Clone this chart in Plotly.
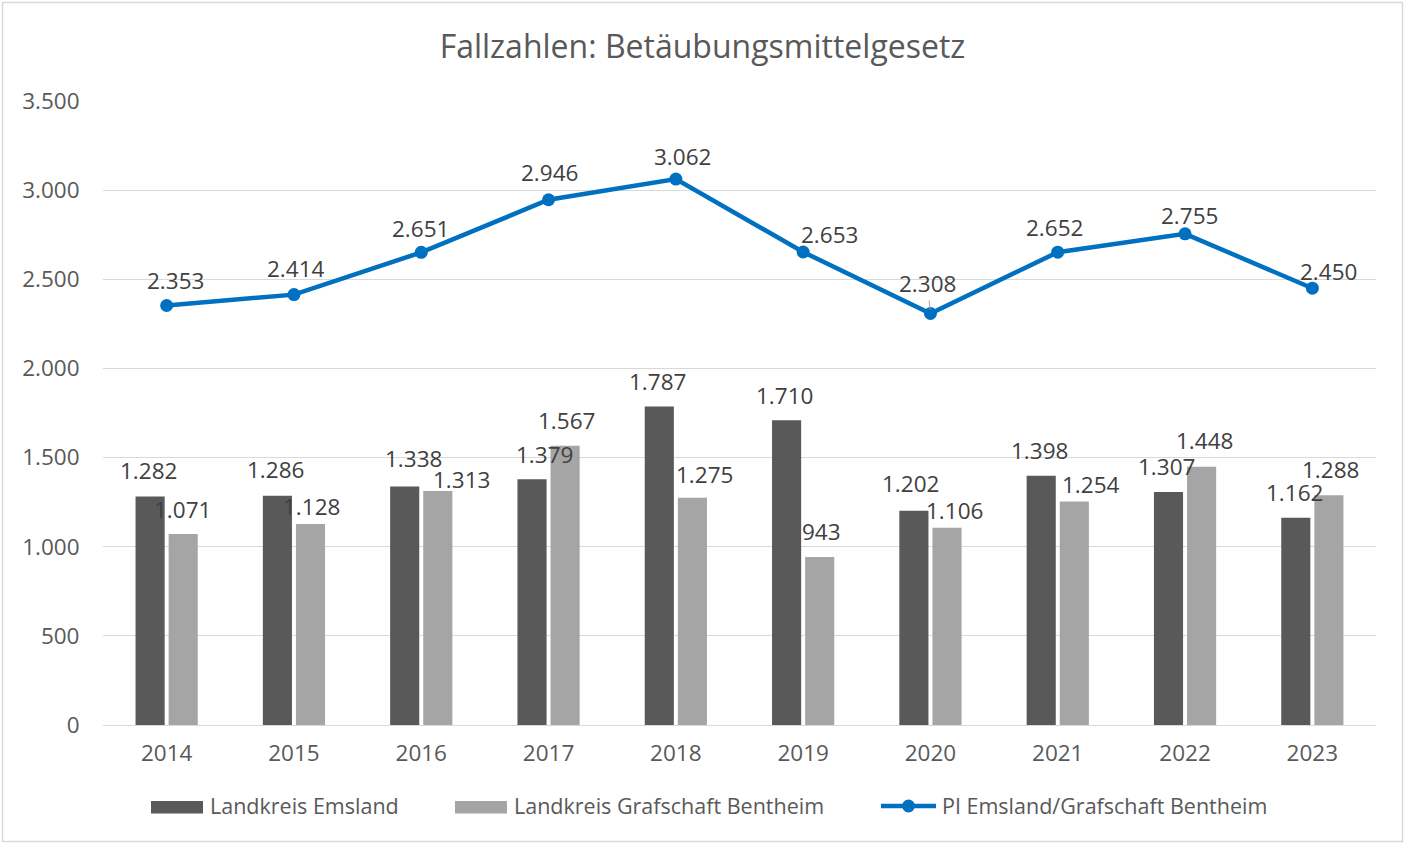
import plotly.graph_objects as go

years = ["2014", "2015", "2016", "2017", "2018", "2019", "2020", "2021", "2022", "2023"]
emsland = [1282, 1286, 1338, 1379, 1787, 1710, 1202, 1398, 1307, 1162]
bentheim = [1071, 1128, 1313, 1567, 1275, 943, 1106, 1254, 1448, 1288]
pi_total = [2353, 2414, 2651, 2946, 3062, 2653, 2308, 2652, 2755, 2450]

series_names = ["Landkreis Emsland", "Landkreis Grafschaft Bentheim", "PI Emsland/Grafschaft Bentheim"]

# label nudges (px) mimicking the manually placed labels of the original
ems_dx = [0, 0, 11, 14, 0, 0, -2, 0, 0, 0]
ems_dy = [26, 26, 28, 25, 25, 25, 27, 25, 25, 25]
ben_dx = [-2, -1, 22, 0, 10, 0, 6, 15, 1, 0]
ben_dy = [25, 17, 11, 25, 23, 25, 17, 17, 26, 26]
pi_dx = [9, 2, -1, 1, 7, 26, -3, -3, 4, 16]
pi_dy = [25, 26, 24, 27, 23, 18, 30, 25, 18, 17]

def de(v):
    return f"{v:,}".replace(",", ".")

W, H = 1405, 844
ML, MR, MT, MB = 103, 29, 101, 119
PW = W - ML - MR
PH = H - MT - MB
FONT = "Open Sans"
DARK, LIGHT, BLUE = "#595959", "#A5A5A5", "#0070C0"
TXT = "#595959"
LBL = "#404040"

def px(x):
    return (x - ML) / PW

def py(y):
    return (H - MB - y) / PH

fig = go.Figure()
fig.add_trace(go.Bar(x=years, y=emsland, name=series_names[0], marker_color=DARK,
                     marker_line_width=0, showlegend=False))
fig.add_trace(go.Bar(x=years, y=bentheim, name=series_names[1], marker_color=LIGHT,
                     marker_line_width=0, showlegend=False))
fig.add_trace(go.Scatter(x=years, y=pi_total, name=series_names[2], showlegend=False,
                         mode="lines+markers", line=dict(color=BLUE, width=4.5),
                         marker=dict(color=BLUE, size=13)))

LFS = 22.5
ann = []
bar_off = 18.3
for i, y in enumerate(years):
    ann.append(dict(x=i, y=emsland[i], xref="x", yref="y", text=de(emsland[i]), showarrow=False,
                    xshift=-bar_off + ems_dx[i], yshift=ems_dy[i], font=dict(family=FONT, size=LFS, color=LBL)))
    ann.append(dict(x=i, y=bentheim[i], xref="x", yref="y", text=de(bentheim[i]), showarrow=False,
                    xshift=bar_off + ben_dx[i], yshift=ben_dy[i], font=dict(family=FONT, size=LFS, color=LBL)))
    if y == "2020":
        ann.append(dict(x=i, y=pi_total[i], xref="x", yref="y", text=de(pi_total[i]), showarrow=True,
                        arrowhead=0, arrowwidth=1, arrowcolor="#A6A6A6", ax=pi_dx[i], ay=-pi_dy[i],
                        standoff=4, font=dict(family=FONT, size=LFS, color=LBL)))
    else:
        ann.append(dict(x=i, y=pi_total[i], xref="x", yref="y", text=de(pi_total[i]), showarrow=False,
                        xshift=pi_dx[i], yshift=pi_dy[i], font=dict(family=FONT, size=LFS, color=LBL)))

shapes = []
# outer border
shapes.append(dict(type="rect", xref="paper", yref="paper",
                   x0=px(2.5), x1=px(W - 2.5), y0=py(H - 2.5), y1=py(2.5),
                   line=dict(color="#D9D9D9", width=1.5), layer="below"))

# custom legend (wide swatches as in the original)
LY = 806
legend_items = [
    (series_names[0], "bar", DARK, 151, 203, 208),
    (series_names[1], "bar", LIGHT, 455, 507, 512),
    (series_names[2], "line", BLUE, 881, 936, 940),
]
for name, kind, col, x0, x1, tx in legend_items:
    if kind == "bar":
        shapes.append(dict(type="rect", xref="paper", yref="paper", x0=px(x0), x1=px(x1),
                           y0=py(LY + 7.5), y1=py(LY - 5), fillcolor=col, line=dict(width=0)))
    else:
        shapes.append(dict(type="line", xref="paper", yref="paper", x0=px(x0), x1=px(x1),
                           y0=py(LY), y1=py(LY), line=dict(color=col, width=4.5)))
        shapes.append(dict(type="circle", xref="paper", yref="paper",
                           x0=px((x0 + x1) / 2 - 6.5), x1=px((x0 + x1) / 2 + 6.5),
                           y0=py(LY + 6.5), y1=py(LY - 6.5), fillcolor=col, line=dict(width=0)))
    ann.append(dict(x=px(tx), y=py(LY - 1), xref="paper", yref="paper", text=name, showarrow=False,
                    xanchor="left", yanchor="middle", font=dict(family=FONT, size=21.5, color=TXT)))

fig.update_layout(
    width=W, height=H, autosize=False,
    margin=dict(l=ML, r=MR, t=MT, b=MB),
    paper_bgcolor="white", plot_bgcolor="white",
    font=dict(family=FONT, color=TXT, size=18),
    title=dict(text="Fallzahlen: Betäubungsmittelgesetz", x=0.5, xanchor="center",
               y=1 - 47 / H, yanchor="middle", yref="container",
               font=dict(family=FONT, size=32, color=TXT)),
    barmode="group", bargap=0.48, bargroupgap=0.12,
    showlegend=False,
    annotations=ann,
    shapes=shapes,
    separators=",.",
)
fig.update_xaxes(range=[-0.5, len(years) - 0.5], automargin=False, showgrid=False, showline=True,
                 linecolor="#D9D9D9", linewidth=1,
                 ticks="outside", ticklen=8, tickcolor="rgba(0,0,0,0)",
                 tickfont=dict(family=FONT, size=22.5, color=TXT))
fig.update_yaxes(range=[0, 3500], dtick=500, automargin=False, showgrid=True, gridcolor="#D9D9D9", gridwidth=1,
                 zeroline=False, showline=False, tickformat=",d",
                 ticks="outside", ticklen=18, tickcolor="rgba(0,0,0,0)",
                 tickfont=dict(family=FONT, size=22.5, color=TXT))

fig.write_html("out.html", config={"displayModeBar": False},
               post_script="document.body.style.margin='0';")
